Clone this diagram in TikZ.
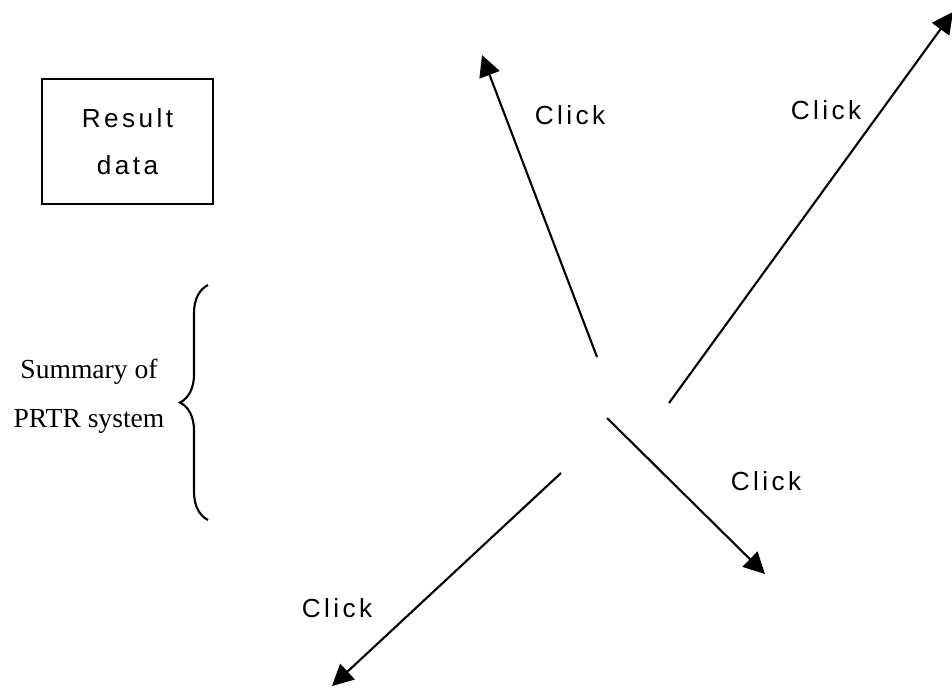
\documentclass[tikz,border=0pt]{standalone}
\usepackage{fontspec}
\setmainfont{Liberation Serif}
\setsansfont{Liberation Sans}[LetterSpace=13]
\usetikzlibrary{arrows.meta,decorations.pathreplacing}
\tikzset{
  clickarrow/.style={line width=1.5pt,-{Triangle[length=0.53cm,width=0.53cm]}},
  clicklabel/.style={font=\sffamily\fontsize{18.6}{22}\selectfont}
}

\begin{document}
\begin{tikzpicture}[x=0.025cm,y=-0.025cm]
    \useasboundingbox (0,0) rectangle (952,687);

    % left side: box and brace
    \node[draw,line width=1.4pt,minimum width=4.275cm,minimum height=3.125cm,align=center,
          font=\sffamily\fontsize{18.6}{33.4}\selectfont] (result) at (127.5,141.5) {Result\\data};
    \node[align=center,font=\fontsize{19.6}{34.9}\selectfont] (summary) at (89,396) {Summary of\\PRTR system};
    \coordinate (brace bottom) at (208,520);
    \coordinate (brace top) at (208,285);
    \draw[line width=1.5pt,decorate,decoration={brace,amplitude=0.7cm,aspect=0.5}] (brace bottom) -- (brace top);

    % the four arrows
    \coordinate (nw s) at (597,357);
    \coordinate (nw e) at (482,55);
    \coordinate (ne s) at (669,403);
    \coordinate (ne e) at (953,12);
    \coordinate (se s) at (607,418);
    \coordinate (se e) at (765,574);
    \coordinate (sw s) at (561,473);
    \coordinate (sw e) at (332,686);
    \draw[clickarrow] (nw s) -- (nw e);
    \draw[clickarrow] (ne s) -- (ne e);
    \draw[clickarrow] (se s) -- (se e);
    \draw[clickarrow] (sw s) -- (sw e);

    \node[clicklabel] (click nw) at (570,115) {Click};
    \node[clicklabel] (click ne) at (826,110) {Click};
    \node[clicklabel] (click se) at (766,481) {Click};
    \node[clicklabel] (click sw) at (337,608.5) {Click};
\end{tikzpicture}
\end{document}
